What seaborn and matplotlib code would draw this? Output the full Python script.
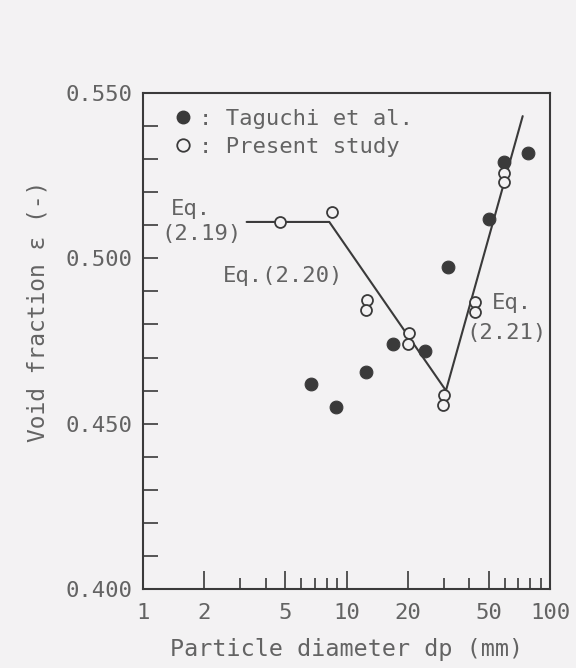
import numpy as np
import pandas as pd
import seaborn as sns
import matplotlib.pyplot as plt
from matplotlib.lines import Line2D
from matplotlib.ticker import FixedLocator, FixedFormatter, MultipleLocator

# ─────────────────────────────────────────
# data
# ─────────────────────────────────────────
taguchi_dp = [6.7, 8.9, 12.5, 16.9, 24.2, 31.4, 50.3, 59.1, 78.2]
taguchi_eps = [0.462, 0.455, 0.4655, 0.474, 0.472, 0.4975, 0.512, 0.529, 0.532]

present_dp = [4.7, 8.5, 12.6, 12.5, 20.3, 20.1, 30.1, 29.9, 42.8, 42.8, 59.4, 59.1]
present_eps = [0.511, 0.514, 0.4875, 0.4845, 0.4775, 0.4742, 0.4586, 0.4555,
               0.4869, 0.4838, 0.5257, 0.5231]

# Eq.(2.19) flat part, Eq.(2.20) falling part, Eq.(2.21) rising part
eq_dp = [3.23, 8.23, 30.8, 73.4]
eq_eps = [0.511, 0.511, 0.460, 0.543]

xtick_vals = [1, 2, 5, 10, 20, 50, 100]
xtick_labels = ["1", "2", "5", "10", "20", "50", "100"]
xminor_vals = [3, 4, 6, 7, 8, 9, 30, 40, 60, 70, 80, 90]
ytick_vals = [0.400, 0.450, 0.500, 0.550]
ytick_labels = ["0.400", "0.450", "0.500", "0.550"]

tag = pd.DataFrame({"dp": taguchi_dp, "eps": taguchi_eps})
pre = pd.DataFrame({"dp": present_dp, "eps": present_eps})
eq = pd.DataFrame({"dp": eq_dp, "eps": eq_eps})

bg = "#f3f2f3"
ink = "#3a3a3a"
txt = "#636363"

sns.set_style("ticks")
plt.rcParams["font.family"] = ["DejaVu Sans Mono", "DejaVu Sans"]
plt.rcParams["axes.linewidth"] = 1.5

fig = plt.figure(figsize=(5.76, 6.68), dpi=100, facecolor=bg)
ax = fig.add_axes([0.2483, 0.1183, 0.7066, 0.7425])
ax.set_facecolor(bg)

sns.lineplot(data=eq, x="dp", y="eps", sort=False, estimator=None,
             color=ink, linewidth=1.5, ax=ax, zorder=2)
sns.scatterplot(data=tag, x="dp", y="eps", color=ink, edgecolor=ink,
                s=85, ax=ax, zorder=3)
sns.scatterplot(data=pre, x="dp", y="eps", facecolor=bg, edgecolor=ink,
                linewidth=1.3, s=62, ax=ax, zorder=4)

ax.set_xscale("log")
ax.set_xlim(1, 100)
ax.set_ylim(0.400, 0.550)

ax.xaxis.set_major_locator(FixedLocator(xtick_vals))
ax.xaxis.set_major_formatter(FixedFormatter(xtick_labels))
ax.xaxis.set_minor_locator(FixedLocator(xminor_vals))
ax.xaxis.set_minor_formatter(FixedFormatter([""] * len(xminor_vals)))
ax.yaxis.set_major_locator(FixedLocator(ytick_vals))
ax.yaxis.set_major_formatter(FixedFormatter(ytick_labels))
ax.yaxis.set_minor_locator(MultipleLocator(0.01))

ax.tick_params(axis="x", which="major", direction="in", length=13, width=1.2,
               color=ink, labelsize=16, labelcolor=txt, pad=10)
ax.tick_params(axis="x", which="minor", direction="in", length=8, width=1.2,
               color=ink)
ax.tick_params(axis="y", which="both", direction="in", length=11, width=1.2,
               color=ink, labelsize=16, labelcolor=txt, pad=8)

for sp in ax.spines.values():
    sp.set_color(ink)

ax.set_xlabel("Particle diameter dp (mm)", fontsize=16.8, color=txt, labelpad=11)
ax.set_ylabel("Void fraction ε (-)", fontsize=16.5, color=txt)
ax.yaxis.set_label_coords(-0.23, 0.56)

handles = [
    Line2D([], [], ls="", marker="o", ms=9, mfc=ink, mec=ink),
    Line2D([], [], ls="", marker="o", ms=9, mfc=bg, mec=ink, mew=1.3),
]
leg = ax.legend(handles, [": Taguchi et al.", ": Present study"],
                loc="upper left", bbox_to_anchor=(0.071, 0.968), frameon=False,
                handlelength=1.0, handletextpad=0.2, borderpad=0,
                borderaxespad=0, labelspacing=0.37, fontsize=16)
for t in leg.get_texts():
    t.set_color(txt)

# equation labels
ax.text(1.72, 0.5149, "Eq.", fontsize=16, color=txt, ha="center", va="center")
ax.text(1.93, 0.5074, "(2.19)", fontsize=16, color=txt, ha="center", va="center")
ax.text(4.9, 0.4947, "Eq.(2.20)", fontsize=16, color=txt, ha="center", va="center")
ax.text(64.7, 0.4865, "Eq.", fontsize=16, color=txt, ha="center", va="center")
ax.text(60.8, 0.4774, "(2.21)", fontsize=16, color=txt, ha="center", va="center")

fig.savefig("out.png", dpi=100, facecolor=bg)
